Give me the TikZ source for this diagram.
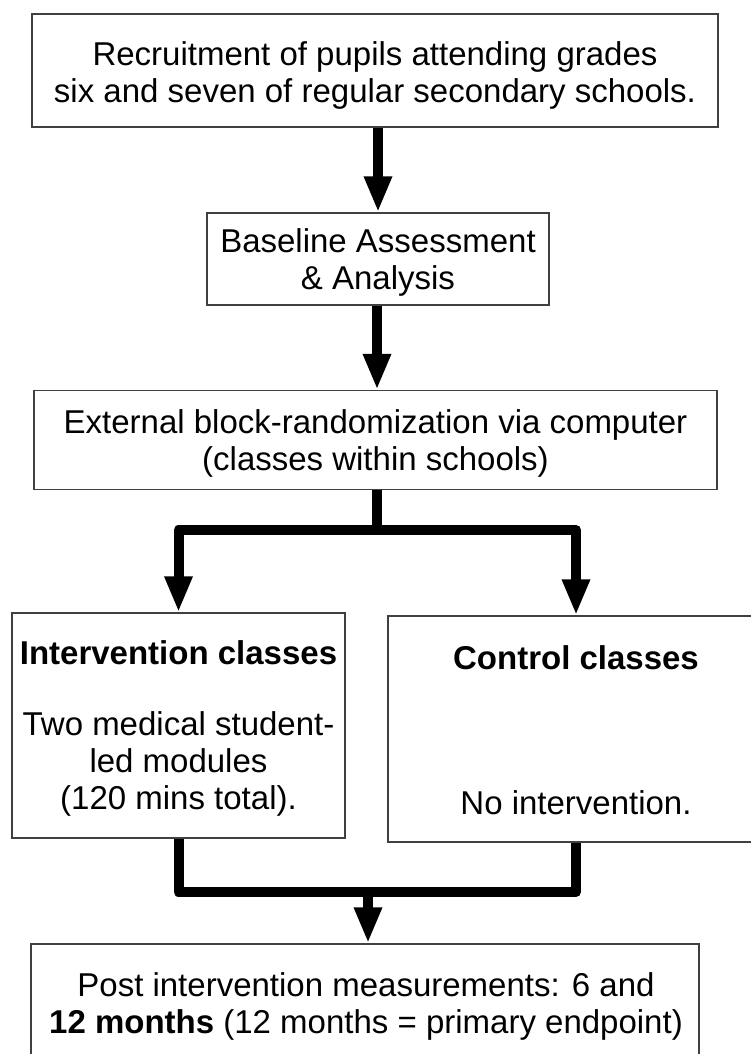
\documentclass[tikz,border=0pt]{standalone}
\usepackage{fontspec}
\setmainfont{Liberation Sans}
\usetikzlibrary{arrows.meta}
\begin{document}
\begin{tikzpicture}[x=1pt,y=1pt,
  box/.style={draw=black!75, line width=1.5pt, fill=white, rectangle, inner sep=0pt},
  txt/.style={align=center, inner sep=0pt, font=\fontsize{33}{37}\selectfont},
  flow/.style={line width=10pt, line join=round, line cap=butt},
  arr/.style={flow, -{Triangle[width=26pt,length=36pt]}}]
\useasboundingbox (0,0) rectangle (751,-1054);
\clip (0,0) rectangle (751,-1054);
\fill[white] (0,0) rectangle (751,-1054);
% boxes
\node[box, minimum width=686, minimum height=113] (b1) at (375,-70.5) {};
\node[box, minimum width=342, minimum height=92] (b2) at (378,-259) {};
\node[box, minimum width=683, minimum height=99] (b3) at (375.5,-440) {};
\node[box, minimum width=333, minimum height=225] (b4) at (178.5,-725.5) {};
\node[box, minimum width=376, minimum height=226] (b5) at (576,-729) {};
\node[box, minimum width=668, minimum height=132] (b6) at (365,-1010) {};
% texts
\node[txt] (t1) at ([yshift=-5]b1.center)
  {Recruitment of pupils attending grades\\six and seven of regular secondary schools.};
\node[txt] (t2) at ([yshift=-3]b2.center)
  {Baseline Assessment\\\& Analysis};
\node[txt] (t3) at ([yshift=-3]b3.center)
  {External block-randomization via computer\\(classes within schools)};
\node[txt] (t4) at ([yshift=-3]b4.center)
  {\textbf{Intervention classes}\\[34pt]Two medical student-\\led modules\\(120 mins total).};
\node[txt] (t5) at ([yshift=-1]b5.center)
  {\textbf{Control classes}\\[108pt]No intervention.};
\node[txt] (t6) at (366,-1006)
  {Post intervention measurements: 6 and\\\textbf{12 months} (12 months = primary endpoint)};
% connectors
\coordinate (split) at (377,-530);
\coordinate (merge) at (368,-892);
\draw[arr] (b2.north |- b1.south) -- (b2.north);
\draw[arr] (b2.south -| split) -- (b3.north -| split);
\draw[flow] (b3.south -| split) -- (split);
\draw[arr] (split) -| (b4.north);
\draw[arr] (split) -| (b5.north);
\draw[flow] (b4.south) |- (b5.south |- merge) -- (b5.south);
\draw[arr] (merge) -- (merge |- b6.north);
\end{tikzpicture}
\end{document}
